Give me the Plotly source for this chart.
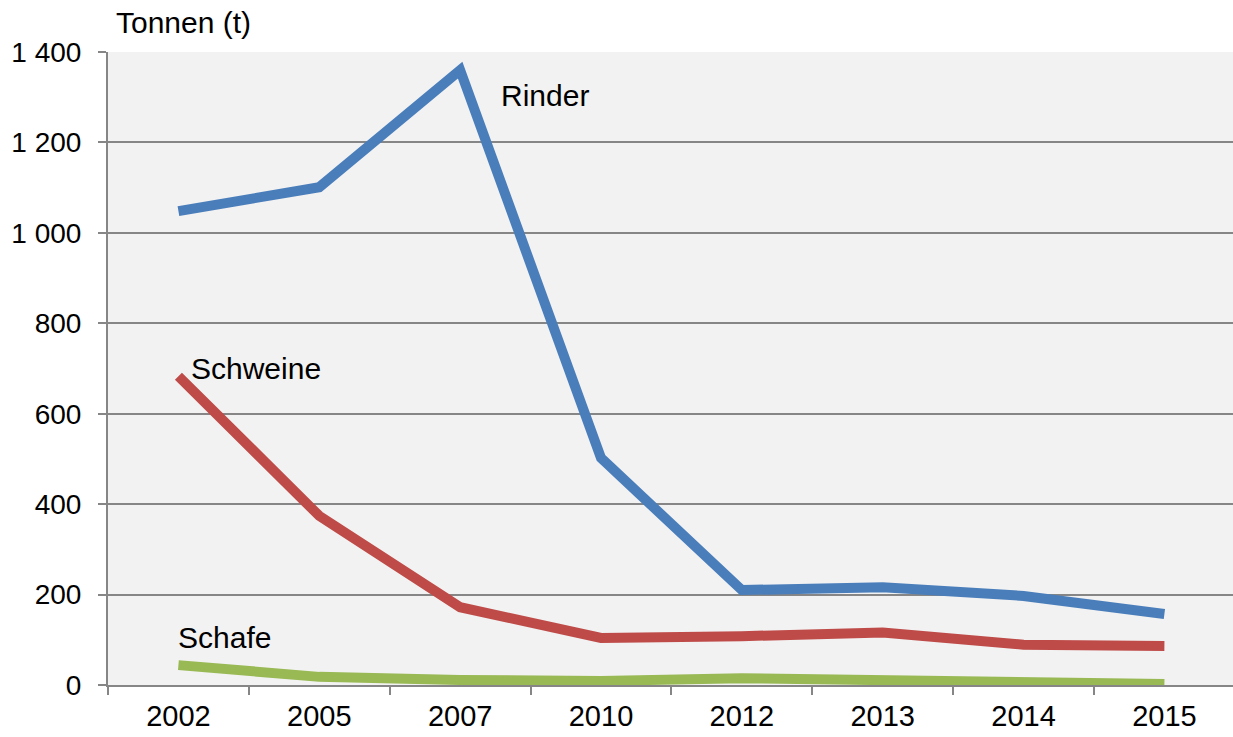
import plotly.graph_objects as go

years = ["2002", "2005", "2007", "2010", "2012", "2013", "2014", "2015"]
rinder = [1048, 1101, 1360, 502, 210, 216, 197, 157]
schweine = [683, 374, 172, 104, 108, 116, 89, 86]
schafe = [44, 18, 11, 9, 15, 11, 7, 2]

ytickvals = [0, 200, 400, 600, 800, 1000, 1200, 1400]
yticktext = ["0", "200", "400", "600", "800", "1 000", "1 200", "1 400"]

FONT = "Liberation Sans, Arial, sans-serif"
FS = 30
fig = go.Figure()
for name, vals, col in [("Rinder", rinder, "#4A7EBB"),
                        ("Schweine", schweine, "#BE4B48"),
                        ("Schafe", schafe, "#98B954")]:
    fig.add_trace(go.Scatter(x=list(range(len(years))), y=vals, mode="lines", name=name,
                             line=dict(color=col, width=10), showlegend=False,
                             cliponaxis=False))

labels = [("Rinder", 2.275, 1303), ("Schweine", 0.075, 701), ("Schafe", -0.016, 104)]
for txt, xv, yv in labels:
    fig.add_annotation(x=xv, y=yv, text=txt, showarrow=False, xanchor="left",
                       yanchor="middle", font=dict(size=FS, color="black", family=FONT))
fig.add_annotation(xref="paper", yref="paper", x=0.005, y=1, yshift=30, text="Tonnen (t)",
                   showarrow=False, xanchor="left", yanchor="middle",
                   font=dict(size=FS, color="black", family=FONT))

fig.update_layout(
    width=1233, height=737,
    margin=dict(l=108, r=0, t=52, b=52),
    paper_bgcolor="white", plot_bgcolor="#F2F2F2",
    font=dict(family=FONT, size=FS, color="black"),
    xaxis=dict(range=[-0.5, 7.487], tickvals=list(range(len(years))), ticktext=years,
               showgrid=False, zeroline=False, showline=False, ticks="",
               ticklabelstandoff=11, tickfont=dict(size=29)),
    yaxis=dict(range=[0, 1400], tickvals=ytickvals, ticktext=yticktext,
               showgrid=True, gridcolor="#868686", gridwidth=2, zeroline=False,
               showline=True, linecolor="#868686", linewidth=2,
               ticks="outside", ticklen=8, tickwidth=2, tickcolor="#868686",
               ticklabelstandoff=11, tickfont=dict(size=28)),
)
fig.update_layout(xaxis2=dict(overlaying="x", range=[-0.5, 7.487],
                              tickvals=[i + 0.5 for i in range(-1, len(years))],
                              ticktext=[""] * (len(years) + 1),
                              ticks="outside", ticklen=8, tickwidth=2, tickcolor="#868686",
                              showgrid=False, zeroline=False, showline=True,
                              linecolor="#868686", linewidth=2, side="bottom",
                              anchor="y"))
fig.add_trace(go.Scatter(x=[None], y=[None], xaxis="x2", showlegend=False))
fig.write_html("out.html")
